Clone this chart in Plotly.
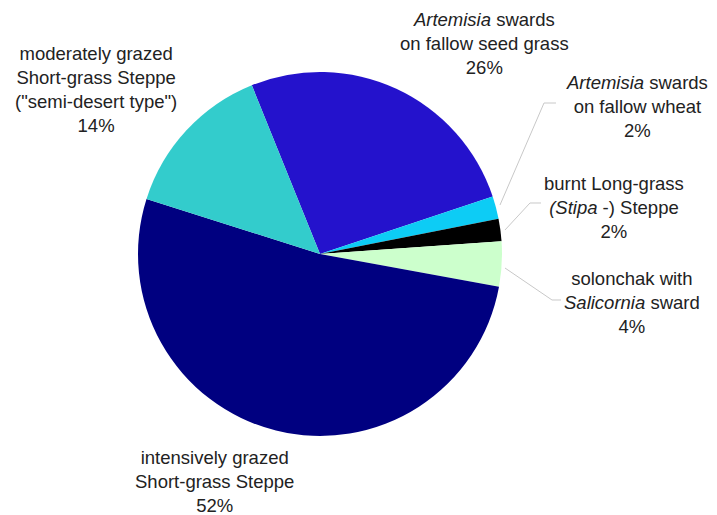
import plotly.graph_objects as go

# Land-cover categories and their shares (%)
labels = [
    "<i>Artemisia</i> swards<br>on fallow seed grass",
    "<i>Artemisia</i> swards<br>on fallow wheat",
    "burnt Long-grass<br><i>(Stipa</i> -) Steppe",
    "solonchak with<br><i>Salicornia</i> sward",
    "intensively grazed<br>Short-grass Steppe",
    "moderately grazed<br>Short-grass Steppe<br>(\"semi-desert type\")",
]
shares = [26, 2, 2, 4, 52, 14]
colors = ["#2412CC", "#0DCCF5", "#000000", "#CCFFCC", "#000080", "#33CCCC"]

W, H = 717, 515


def px(x, y):
    """Convert pixel coordinates (origin top-left) to paper coordinates."""
    return x / W, 1 - y / H


# Pie geometry in pixels
cx, cy, r = 320, 254, 182
x0, y0 = px(cx - r, cy - r)
x1, y1 = px(cx + r, cy + r)

fig = go.Figure(
    go.Pie(
        values=shares,
        labels=labels,
        marker=dict(colors=colors, line=dict(width=0)),
        sort=False,
        direction="clockwise",
        rotation=-22,
        textinfo="none",
        hoverinfo="label+percent",
        showlegend=False,
        domain=dict(x=[x0, x1], y=[y1, y0]),
    )
)

# Label placement (pixel centres) and leader lines
label_pos = [(484, 43), (637, 106), (614, 207), (632, 302), (214, 481), (96, 89)]
leaders = [
    None,
    [(500, 205), (544, 103), (556, 103)],
    [(505, 230), (530, 203), (541, 203)],
    [(505, 268), (552, 300), (561, 300)],
    None,
    None,
]

annotations = []
for lab, val, (lx, ly) in zip(labels, shares, label_pos):
    ax, ay = px(lx, ly)
    annotations.append(
        dict(
            text=f"{lab}<br>{val}%",
            x=ax, y=ay, xref="paper", yref="paper",
            xanchor="center", yanchor="middle",
            showarrow=False, align="center",
            font=dict(family="Liberation Sans, Arial", size=18.5, color="#222222"),
        )
    )

shapes = []
for pts in leaders:
    if not pts:
        continue
    path = "M " + " L ".join(
        f"{px(x, y)[0]:.5f},{px(x, y)[1]:.5f}" for x, y in pts
    )
    shapes.append(
        dict(type="path", path=path, xref="paper", yref="paper",
             line=dict(color="#C8C8C8", width=1))
    )

fig.update_layout(
    width=W, height=H,
    margin=dict(l=0, r=0, t=0, b=0),
    paper_bgcolor="white",
    plot_bgcolor="white",
    annotations=annotations,
    shapes=shapes,
)

fig.write_html("out.html")
